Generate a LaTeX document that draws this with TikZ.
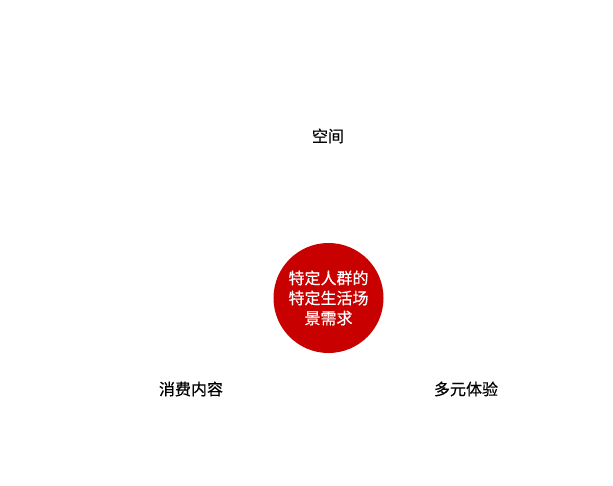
\documentclass[tikz,border=0pt]{standalone}
\usepackage{fontspec}
\setmainfont{Noto Sans CJK SC}
\newfontfamily\lblfont{Noto Sans CJK SC}[FakeBold=0.4]
\definecolor{cred}{RGB}{200,0,0}
\begin{document}
\begin{tikzpicture}[x=1bp,y=-1bp,
  lbl/.style={font=\lblfont\fontsize{16bp}{20bp}\selectfont, text=black, inner sep=0pt},
  hub/.style={circle, fill=cred, minimum size=110bp, inner sep=0pt, align=center, text=white, font=\lblfont\fontsize{16bp}{20bp}\selectfont}]
\useasboundingbox (0,0) rectangle (613,486);
\node[hub] (c) at (328.5,298) {特定人群的\\特定生活场\\景需求};
\node[lbl] (s) at (328,136) {空间};
\node[lbl] (x) at (191,389) {消费内容};
\node[lbl] (d) at (466,389) {多元体验};
\end{tikzpicture}
\end{document}
